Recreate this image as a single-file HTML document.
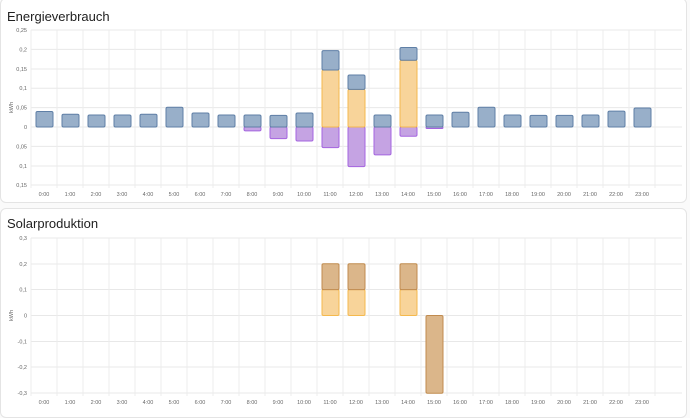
<!DOCTYPE html>
<html><head><meta charset="utf-8"><style>
body{margin:0;background:#fafafa;width:690px;height:413px;overflow:hidden;font-family:"Liberation Sans",sans-serif}
.card{position:absolute;left:0;width:687px;background:#fff;border:1px solid #e4e4e4;border-radius:6px;box-sizing:border-box}
.t{position:absolute;left:7px;font-size:13px;color:#212121}
svg{position:absolute;left:0;top:0}
</style></head><body>
<div class="card" style="top:-2px;height:205px"></div>
<div class="card" style="top:208px;height:210px"></div>
<div class="t" style="top:9px">Energieverbrauch</div>
<div class="t" style="top:216px">Solarproduktion</div>
<svg id="s" width="690" height="413" font-family="Liberation Sans, sans-serif" font-size="5.5" fill="#666"></svg>
<script>
var s=document.getElementById('s'),h='';
var X0=31,W=26;
function grid(yTop,yBot,ticks){
 ticks.forEach(function(t){h+='<line x1="31" x2="682" y1="'+t[0]+'" y2="'+t[0]+'" stroke="#e8e8e8" stroke-width="1"/>';
 h+='<text x="27" y="'+(t[0]+2)+'" text-anchor="end">'+t[1]+'</text>';});
 for(var i=0;i<=24;i++){var x=X0+i*W;h+='<line x1="'+x+'" x2="'+x+'" y1="'+yTop+'" y2="'+(yBot+3)+'" stroke="#ececec"/>';}
 for(var i=0;i<24;i++){h+='<text x="'+(X0+i*W+13)+'" y="'+(yBot+11)+'" text-anchor="middle">'+i+':00</text>';}
 h+='<text transform="translate(13,'+((yTop+yBot)/2)+') rotate(-90)" text-anchor="middle">kWh</text>';
}
function bar(i,y1,y2,f,st){var a=Math.min(y1,y2),b=Math.abs(y2-y1);h+='<rect x="'+(X0+i*W+5)+'" y="'+a+'" width="17" height="'+b+'" rx="1.5" fill="'+f+'" stroke="'+st+'" stroke-width="1"/>';}
// top
var Z=127,K=388;function y(v){return Z-v*K;}
grid(30,185,[[30,'0,25'],[49.4,'0,2'],[69,'0,15'],[88.2,'0,1'],[107.6,'0,05'],[127,'0'],[146.4,'0,05'],[166,'0,1'],[185,'0,15']]);
var B='#98afc9',BS='#5f7fa6',O='#f8d49a',OS='#f5b94d',P='#c5a3e3',PS='#a565e0',R='#dbb68a',RS='#c08b4f';
var blue=[.04,.033,.031,.031,.033,.051,.036,.031,.031,.03,.036,0,0,.031,0,.031,.038,.051,.031,.03,.03,.031,.041,.049];
var pur={8:-.01,9:-.03,10:-.036,11:-.053,12:-.102,13:-.072,14:-.024,15:-.004};
for(var k in pur)bar(+k,y(0),y(pur[k]),P,PS);
blue.forEach(function(v,i){if(v)bar(i,y(0),y(v),B,BS);});
bar(11,y(0),y(.147),O,OS);bar(11,y(.147),y(.197),B,BS);
bar(12,y(0),y(.097),O,OS);bar(12,y(.097),y(.134),B,BS);
bar(14,y(0),y(.172),O,OS);bar(14,y(.172),y(.205),B,BS);
// bottom
var Z2=315.5,K2=259;function y2(v){return Z2-v*K2;}
grid(238,393,[[238,'0,3'],[264,'0,2'],[289.5,'0,1'],[315.5,'0'],[341.5,'-0,1'],[367,'-0,2'],[393,'-0,3']]);
[11,12,14].forEach(function(i){bar(i,y2(0),y2(.1),O,OS);bar(i,y2(.1),y2(.2),R,RS);});
bar(15,y2(0),y2(-.3),R,RS);
s.innerHTML=h;
</script>
</body></html>
